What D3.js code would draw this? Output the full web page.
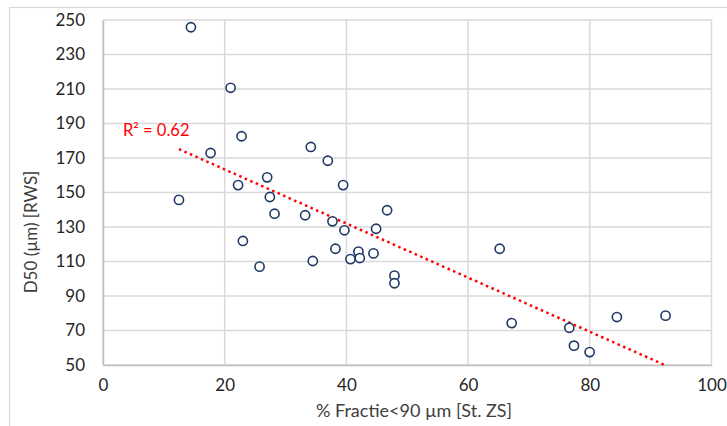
<!DOCTYPE html>
<html><head><meta charset="utf-8">
<script src="https://cdn.jsdelivr.net/npm/d3@7"></script>
<style>
html,body{margin:0;padding:0;background:#fff;}
svg{display:block;font-family:Lato, "Open Sans", sans-serif;}
</style></head>
<body>
<script>
// Data
const xValues = [14.45, 20.97, 22.77, 17.68, 22.2, 12.48, 22.99, 25.73, 34.15, 36.95, 26.98, 39.46, 27.42, 28.19, 33.22, 46.69, 37.71, 39.68, 44.88, 38.2, 41.98, 44.45, 40.67, 42.2, 34.48, 47.9, 47.9, 65.19, 67.16, 76.63, 77.4, 79.97, 84.45, 92.45];
const yValues = [245.8, 210.7, 182.6, 172.9, 154.3, 145.7, 121.9, 107.0, 176.4, 168.4, 158.8, 154.3, 147.4, 137.7, 136.8, 139.7, 133.3, 128.1, 129.0, 117.4, 115.7, 114.7, 111.4, 112.0, 110.3, 101.8, 97.4, 117.4, 74.3, 71.6, 61.2, 57.5, 77.8, 78.6];
const xTicks = [0, 20, 40, 60, 80, 100];
const yTicks = [50, 70, 90, 110, 130, 150, 170, 190, 210, 230, 250];
const xTitle = "% Fractie<90 µm [St. ZS]";
const yTitle = "D50 (µm) [RWS]";
const r2Label = "R² = 0.62";

const W = 727, H = 426;
const svg = d3.select("body").append("svg").attr("width", W).attr("height", H);

// outer chart border (extends past the image on right/bottom)
svg.append("rect").attr("x", 9.5).attr("y", 7.5).attr("width", W + 20).attr("height", H + 20)
  .attr("fill", "none").attr("stroke", "#d9d9d9").attr("stroke-width", 1.2);

const x = d3.scaleLinear().domain([0, 100]).range([103, 711.5]);
const y = d3.scaleLinear().domain([50, 250]).range([365, 20]);

const grid = "#d9d9d9";
svg.append("g").selectAll("line").data(yTicks).join("line")
  .attr("x1", x(0)).attr("x2", x(100)).attr("y1", d => y(d)).attr("y2", d => y(d))
  .attr("stroke", grid).attr("stroke-width", 1.5);
svg.append("g").selectAll("line").data(xTicks).join("line")
  .attr("y1", y(50)).attr("y2", y(250)).attr("x1", d => x(d)).attr("x2", d => x(d))
  .attr("stroke", grid).attr("stroke-width", 1.5);

const fs = "17px";
const ax = svg.append("g").attr("transform", `translate(0,${y(50)})`)
  .call(d3.axisBottom(x).tickValues(xTicks).tickSize(0).tickPadding(14).tickFormat(d3.format("d")));
ax.select(".domain").attr("stroke", "#bfbfbf").attr("stroke-width", 1.5);
ax.selectAll("text").attr("font-size", fs).attr("fill", "#262626").attr("font-family", "Lato, sans-serif");
const ay = svg.append("g").attr("transform", `translate(${x(0)},0)`)
  .call(d3.axisLeft(y).tickValues(yTicks).tickSize(0).tickPadding(18).tickFormat(d3.format("d")));
ay.select(".domain").attr("stroke", "#bfbfbf").attr("stroke-width", 1.5);
ay.selectAll("text").attr("font-size", fs).attr("fill", "#262626").attr("font-family", "Lato, sans-serif");

// trendline (least squares over the data, from min x to max x)
const n = xValues.length;
const mx = d3.mean(xValues), my = d3.mean(yValues);
let sxy = 0, sxx = 0;
for (let i = 0; i < n; i++) { sxy += (xValues[i] - mx) * (yValues[i] - my); sxx += (xValues[i] - mx) ** 2; }
const slope = sxy / sxx, intercept = my - slope * mx;
const xmin = d3.min(xValues), xmax = d3.max(xValues);
svg.append("line")
  .attr("x1", x(xmin)).attr("y1", y(intercept + slope * xmin))
  .attr("x2", x(xmax)).attr("y2", y(intercept + slope * xmax))
  .attr("stroke", "#ff0000").attr("stroke-width", 2.5).attr("stroke-dasharray", "2.5,3.5");

svg.append("g").selectAll("circle").data(xValues.map((v, i) => [v, yValues[i]])).join("circle")
  .attr("cx", d => x(d[0])).attr("cy", d => y(d[1])).attr("r", 4.6)
  .attr("fill", "#fff").attr("stroke", "#1f3864").attr("stroke-width", 1.6);

svg.append("text").attr("x", 123).attr("y", 136).attr("fill", "#ff0000")
  .attr("font-size", "16.5px").text(r2Label);

svg.append("text").attr("x", 414).attr("y", 417).attr("text-anchor", "middle")
  .attr("font-size", "18px").attr("fill", "#404040").text(xTitle);
svg.append("text").attr("transform", "translate(37,232) rotate(-90)").attr("text-anchor", "middle")
  .attr("font-size", "17px").attr("fill", "#404040").text(yTitle);
</script>
</body></html>
